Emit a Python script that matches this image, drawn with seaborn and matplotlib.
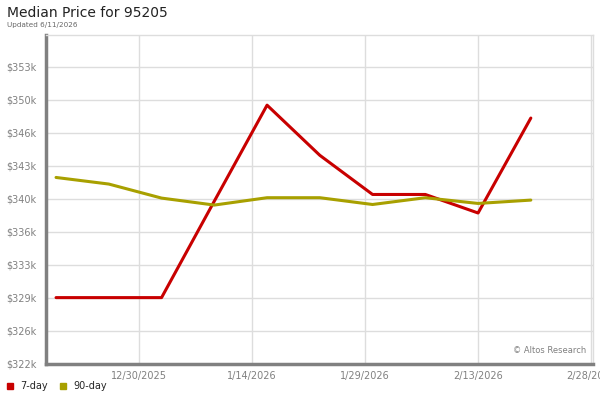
import matplotlib
matplotlib.use("Agg")
import matplotlib.pyplot as plt
import seaborn as sns
import pandas as pd
from matplotlib.patches import Patch

# ---- data ----
dates = ["2025-12-19", "2025-12-26", "2026-01-02", "2026-01-09", "2026-01-16",
         "2026-01-23", "2026-01-30", "2026-02-06", "2026-02-13", "2026-02-20"]
price_7day = [329.2, 329.2, 329.2, 339.3, 349.35, 344.1, 340.0, 340.0, 338.06, 348.0]
price_90day = [341.78, 341.09, 339.62, 338.89, 339.66, 339.66, 338.95, 339.66, 339.06, 339.41]
series_names = ["7-day", "90-day"]
series_colors = ["#C80000", "#A8A000"]
ytick_values = [322.3, 325.75, 329.2, 332.65, 336.1, 339.55, 343.0, 346.45, 349.9, 353.35]
ytick_labels = ["$322k", "$326k", "$329k", "$333k", "$336k", "$340k", "$343k", "$346k", "$350k", "$353k"]
xtick_dates = ["2025-12-30", "2026-01-14", "2026-01-29", "2026-02-13", "2026-02-28"]
xtick_labels = ["12/30/2025", "1/14/2026", "1/29/2026", "2/13/2026", "2/28/2026"]

df = pd.DataFrame({
    "date": pd.to_datetime(dates * 2),
    "price": price_7day + price_90day,
    "series": [series_names[0]] * len(dates) + [series_names[1]] * len(dates),
})

sns.set_style("white")
plt.rcParams["font.family"] = ["DejaVu Sans"]

fig = plt.figure(figsize=(6, 4), dpi=100)
ax = fig.add_axes([46 / 600, 1 - 364 / 400, (593 - 46) / 600, (364 - 35) / 400])

sns.lineplot(data=df, x="date", y="price", hue="series", hue_order=series_names,
             palette=series_colors, linewidth=2.2, ax=ax, legend=False)

ax.set_xlim(pd.Timestamp("2025-12-17 16:00"), pd.Timestamp("2026-02-28 06:00"))
ax.set_ylim(322.3 - 0.05, 322.3 + 3.45 * (329 / 33))

ax.set_yticks(ytick_values)
ax.set_yticklabels(ytick_labels)
ax.set_xticks(pd.to_datetime(xtick_dates))
ax.set_xticklabels(xtick_labels)
ax.tick_params(axis="both", length=0, labelsize=7, labelcolor="#808080")
ax.tick_params(axis="y", pad=7)
ax.tick_params(axis="x", pad=5)
ax.set_xlabel("")
ax.set_ylabel("")

ax.grid(True, color="#dddddd", linewidth=1)
ax.set_axisbelow(True)

for side in ["left", "bottom"]:
    ax.spines[side].set_color("#808080")
    ax.spines[side].set_linewidth(2.5)
for side in ["top", "right"]:
    ax.spines[side].set_color("#dddddd")
    ax.spines[side].set_linewidth(1)

ax.text(0.988, 0.028, "\u00a9 Altos Research", transform=ax.transAxes,
        ha="right", va="bottom", fontsize=6, color="#808080")

fig.text(7 / 600, 1 - 13 / 400, "Median Price for 95205", fontsize=10,
         ha="left", va="center", color="#222222")
fig.text(7 / 600, 1 - 25 / 400, "Updated 6/11/2026", fontsize=5.2,
         ha="left", va="center", color="#666666")

# legend
handles = [Patch(facecolor=c, edgecolor=c) for c in series_colors]
fig.legend(handles, series_names, loc="lower left", bbox_to_anchor=(0.0, 0.005),
           ncol=2, frameon=False, fontsize=7, handlelength=0.6, handleheight=0.6,
           handletextpad=0.8, columnspacing=1.2, borderaxespad=0.3)

fig.savefig("out.png", dpi=100)
